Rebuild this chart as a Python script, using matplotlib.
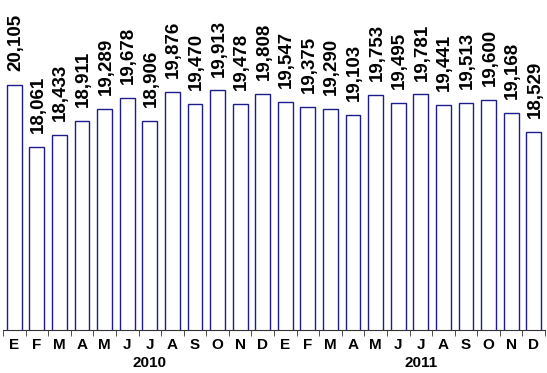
import numpy as np
import matplotlib
matplotlib.use('Agg')
import matplotlib.pyplot as plt
from matplotlib.ticker import FixedLocator

# Monthly values, Jan 2010 - Dec 2011
months = ['E', 'F', 'M', 'A', 'M', 'J', 'J', 'A', 'S', 'O', 'N', 'D'] * 2
years = ['2010', '2011']
values = [20105, 18061, 18433, 18911, 19289, 19678, 18906, 19876, 19470, 19913, 19478, 19808,
          19547, 19375, 19290, 19103, 19753, 19495, 19781, 19441, 19513, 19600, 19168, 18529]

plt.rcParams['font.family'] = ['Liberation Sans', 'DejaVu Sans']

fig = plt.figure(figsize=(5.47, 3.73), dpi=100)
ax = fig.add_axes([3 / 547, 43 / 373, 542 / 547, 330 / 373])

x = np.arange(len(values))
ax.bar(x, values, width=0.66, color='white', edgecolor='#1c1c8c', linewidth=1.0)

for xi, v in zip(x, values):
    ax.annotate(f'{v:,}', (xi, v), xytext=(1, 10), textcoords='offset points',
                rotation=90, ha='center', va='bottom', fontsize=13.5,
                fontweight='bold', annotation_clip=False)

ax.set_xlim(-0.5, len(values) - 0.5)
ax.set_ylim(12000, 22900)

for s in ['left', 'right', 'top']:
    ax.spines[s].set_visible(False)
ax.spines['bottom'].set_color('#333333')
ax.set_yticks([])

ax.set_xticks(x)
ax.set_xticklabels(months, fontsize=11, fontweight='bold')
ax.tick_params(axis='x', which='major', length=0, pad=6)
ax.xaxis.set_minor_locator(FixedLocator(np.arange(-0.5, len(values), 1)))
ax.tick_params(axis='x', which='minor', length=4, color='#333333')

# year labels under each July
for i, yr in enumerate(years):
    ax.text(6 + 12 * i, -0.08, yr, transform=ax.get_xaxis_transform(),
            ha='center', va='top', fontsize=11, fontweight='bold')

fig.savefig('out.png', dpi=100)
